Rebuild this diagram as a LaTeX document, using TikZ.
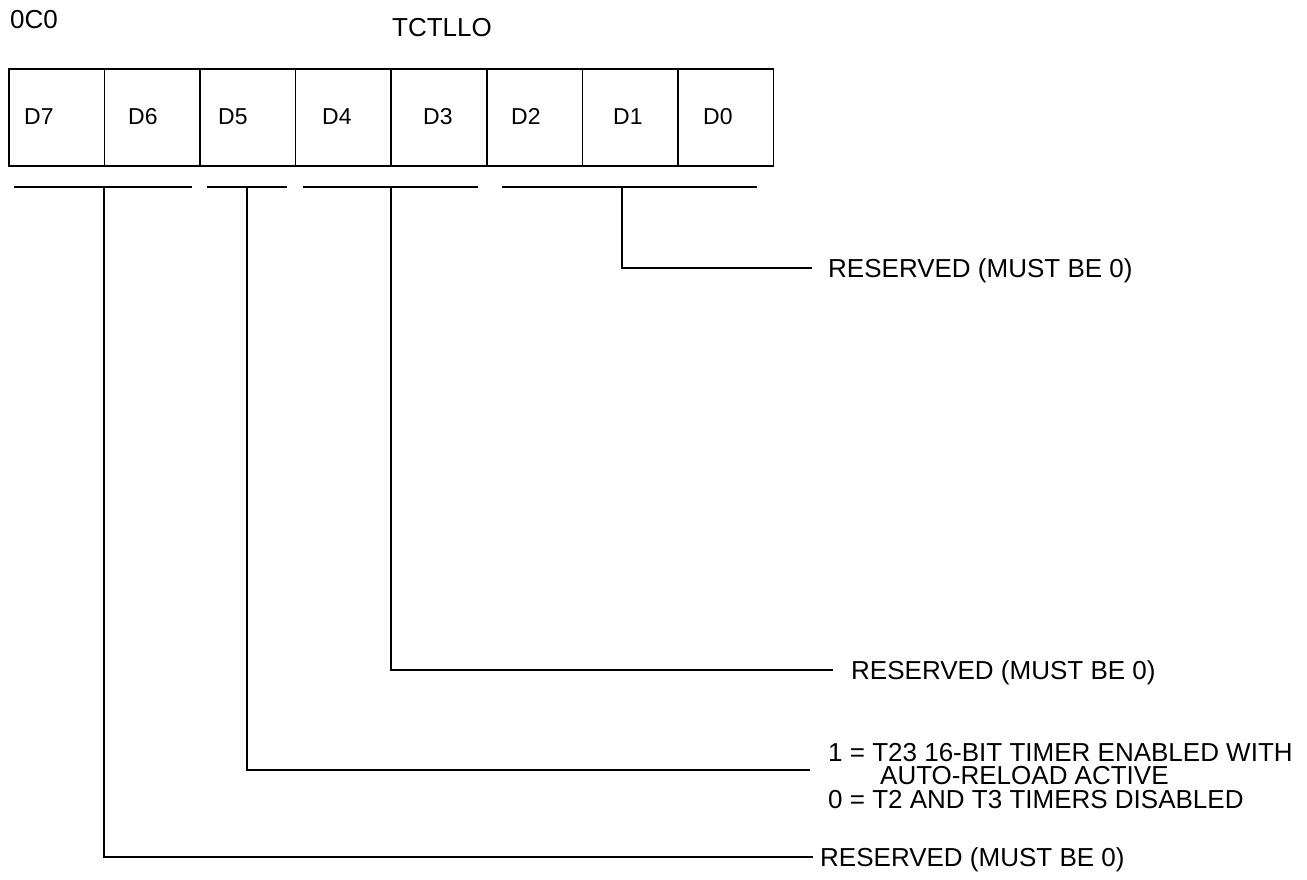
\documentclass[tikz,border=0pt]{standalone}
\usepackage{fontspec}
\setmainfont{Liberation Sans}
\begin{document}
\begin{tikzpicture}[x=1pt,y=-1pt,
  cell/.style={draw, line width=1.6pt, minimum width=95.6pt, minimum height=97pt, inner sep=0pt, anchor=north west},
  bitlab/.style={font=\fontsize{23}{26}\selectfont, anchor=base west, inner sep=0pt},
  toplab/.style={font=\fontsize{26}{28}\selectfont, anchor=base west, inner sep=0pt},
  desc/.style={font=\fontsize{26}{23.5}\selectfont, anchor=base west, inner sep=0pt, align=left},
  wire/.style={line width=1.4pt}]
\useasboundingbox (0,0) rectangle (1307,880);
% titles
\node[toplab] (addr) at (10,29) {0C0};
\node[toplab] (name) at (392,37) {TCTLLO};
% register cells
\foreach \i/\x in {7/8,6/103.6,5/199.2,4/294.8,3/390.4,2/486,1/581.6,0/677.2}{
  \node[cell] (c\i) at (\x,68) {};
}
\node[bitlab] (t7) at (24,125) {D7};
\node[bitlab] (t6) at (128,125) {D6};
\node[bitlab] (t5) at (218,125) {D5};
\node[bitlab] (t4) at (322,125) {D4};
\node[bitlab] (t3) at (423,125) {D3};
\node[bitlab] (t2) at (511,125) {D2};
\node[bitlab] (t1) at (613,125) {D1};
\node[bitlab] (t0) at (703,125) {D0};
% field bars
\coordinate (s7a) at (14,187);  \coordinate (s7b) at (192,187);
\coordinate (s5a) at (207,187); \coordinate (s5b) at (287,187);
\coordinate (s3a) at (303,187); \coordinate (s3b) at (478,187);
\coordinate (s1a) at (502,187); \coordinate (s1b) at (757,187);
\draw[wire] (s7a) -- (s7b);
\draw[wire] (s5a) -- (s5b);
\draw[wire] (s3a) -- (s3b);
\draw[wire] (s1a) -- (s1b);
\coordinate (b7) at (104,187);
\coordinate (b5) at (247,187);
\coordinate (b3) at (391,187);
\coordinate (b1) at (622,187);
% descriptions
\node[desc] (l1) at (828,277) {RESERVED (MUST BE 0)};
\node[desc] (l3) at (851,679) {RESERVED (MUST BE 0)};
\node[desc, anchor=north west] (l5) at (828,743) {1 = T23 16-BIT TIMER ENABLED WITH\\\hspace*{52pt}AUTO-RELOAD ACTIVE\\0 = T2 AND T3 TIMERS DISABLED};
\node[desc] (l7) at (820,866) {RESERVED (MUST BE 0)};
\coordinate (e1) at (812,268);
\coordinate (e3) at (833,670);
\coordinate (e5) at (810,770);
\coordinate (e7) at (813,857);
\draw[wire] (b1) |- (e1);
\draw[wire] (b3) |- (e3);
\draw[wire] (b5) |- (e5);
\draw[wire] (b7) |- (e7);
\end{tikzpicture}
\end{document}
